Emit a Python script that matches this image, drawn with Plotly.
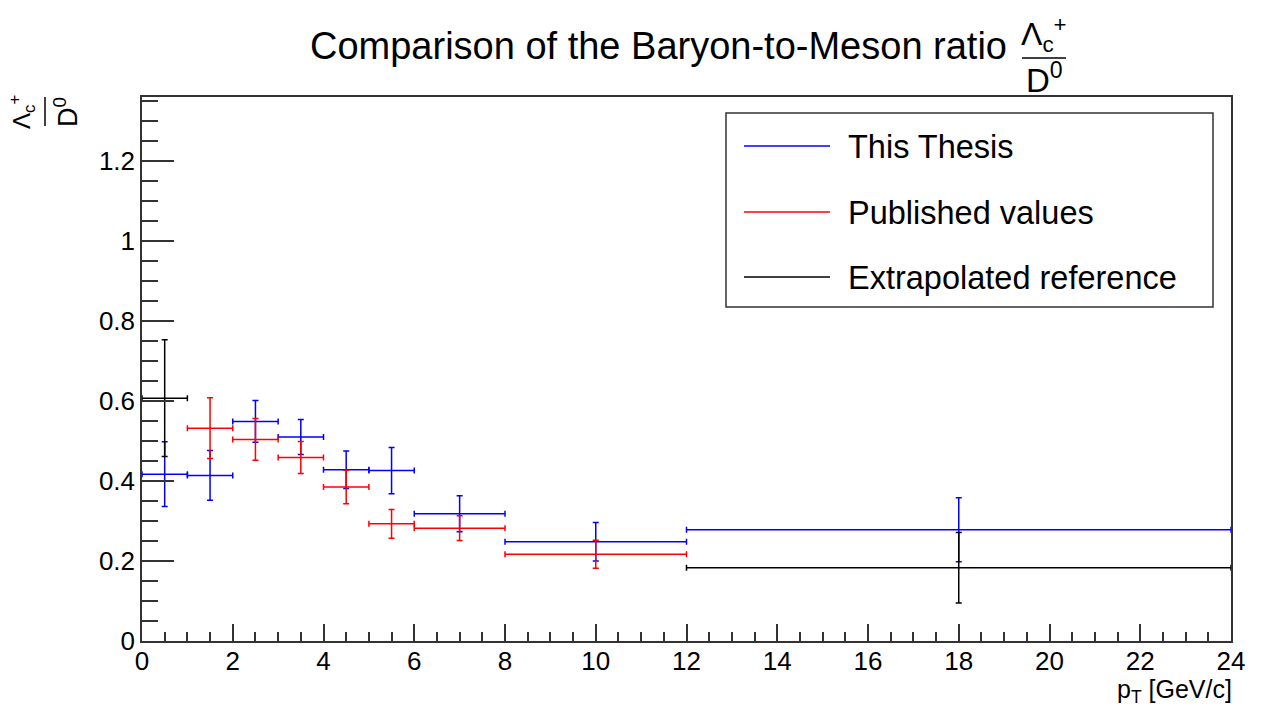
import plotly.graph_objects as go

# ---------------- data ----------------
thesis_x = [0.5, 1.5, 2.5, 3.5, 4.5, 5.5, 7, 10, 18]
thesis_xerr = [0.5, 0.5, 0.5, 0.5, 0.5, 0.5, 1, 2, 6]
thesis_y = [0.417, 0.414, 0.549, 0.510, 0.428, 0.426, 0.318, 0.248, 0.278]
thesis_yerr = [0.081, 0.062, 0.052, 0.044, 0.047, 0.058, 0.045, 0.048, 0.080]

published_x = [1.5, 2.5, 3.5, 4.5, 5.5, 7, 10]
published_xerr = [0.5, 0.5, 0.5, 0.5, 0.5, 1, 2]
published_y = [0.532, 0.504, 0.459, 0.385, 0.293, 0.282, 0.217]
published_yerr = [0.076, 0.052, 0.040, 0.042, 0.036, 0.031, 0.035]

reference_x = [0.5, 18]
reference_xerr = [0.5, 6]
reference_y = [0.607, 0.183]
reference_yerr = [0.146, 0.088]

series_names = ["This Thesis", "Published values", "Extrapolated reference"]
series_colors = ["#0000ff", "#ff0000", "#000000"]

x_tickvals = [0, 2, 4, 6, 8, 10, 12, 14, 16, 18, 20, 22, 24]
x_ticktext = ["0", "2", "4", "6", "8", "10", "12", "14", "16", "18", "20", "22", "24"]
y_tickvals = [0, 0.2, 0.4, 0.6, 0.8, 1.0, 1.2]
y_ticktext = ["0", "0.2", "0.4", "0.6", "0.8", "1", "1.2"]

# ---------------- geometry helpers ----------------
W, H = 1263, 708
L, R, T, B = 142, 1231, 97, 641


def px(xp):
    return (xp - L) / (R - L)


def py(yp):
    return (B - yp) / (B - T)


FONT = "Liberation Sans, Arial, Helvetica, sans-serif"

fig = go.Figure()

datasets = [
    (thesis_x, thesis_xerr, thesis_y, thesis_yerr),
    (published_x, published_xerr, published_y, published_yerr),
    (reference_x, reference_xerr, reference_y, reference_yerr),
]
for (xs, xe, ys, ye), name, col in zip(datasets, series_names, series_colors):
    fig.add_trace(go.Scatter(
        x=xs, y=ys, name=name, mode="markers",
        marker=dict(size=1, color=col),
        error_x=dict(type="data", array=xe, visible=True, color=col,
                     thickness=1.5, width=3),
        error_y=dict(type="data", array=ye, visible=True, color=col,
                     thickness=1.5, width=3),
        showlegend=False,
    ))

fig.update_layout(
    width=W, height=H,
    margin=dict(l=L, r=W - R, t=T, b=H - B),
    paper_bgcolor="white", plot_bgcolor="white",
    font=dict(family=FONT, color="black"),
    showlegend=False,
)

fig.update_xaxes(
    range=[0, 24], showgrid=False, zeroline=False,
    showline=True, linecolor="#333", linewidth=1.5, mirror=True,
    ticks="inside", ticklen=17, tickcolor="#333", tickwidth=1.5,
    tickvals=x_tickvals, ticktext=x_ticktext,
    tickfont=dict(size=26, family=FONT), ticklabelstandoff=-4,
    minor=dict(dtick=0.5, ticks="inside", ticklen=9, tickcolor="#333", tickwidth=1.5),
)
fig.update_yaxes(
    range=[0, 1.36], showgrid=False, zeroline=False,
    showline=True, linecolor="#333", linewidth=1.5, mirror=True,
    ticks="inside", ticklen=32, tickcolor="#333", tickwidth=1.5,
    tickvals=y_tickvals, ticktext=y_ticktext,
    tickfont=dict(size=26, family=FONT),
    minor=dict(dtick=0.05, ticks="inside", ticklen=16, tickcolor="#333", tickwidth=1.5),
)

shapes = []
annotations = []

# ---------------- title ----------------
annotations.append(dict(
    xref="paper", yref="paper", x=px(308), y=py(46), xanchor="left", yanchor="middle",
    text="Comparison of the Baryon-to-Meson ratio", showarrow=False,
    font=dict(size=38, family=FONT, color="black"),
))
annotations.append(dict(
    xref="paper", yref="paper", x=px(1044), y=py(35), xanchor="center", yanchor="middle",
    text="Λ<sub>c</sub><sup>+</sup>", showarrow=False,
    font=dict(size=32, family=FONT, color="black"),
))
shapes.append(dict(type="line", xref="paper", yref="paper",
                   x0=px(1022), x1=px(1066), y0=py(58), y1=py(58),
                   line=dict(color="black", width=1.5)))
annotations.append(dict(
    xref="paper", yref="paper", x=px(1044), y=py(78), xanchor="center", yanchor="middle",
    text="D<sup>0</sup>", showarrow=False,
    font=dict(size=33, family=FONT, color="black"),
))

# ---------------- y-axis title (rotated fraction) ----------------
annotations.append(dict(
    xref="paper", yref="paper", x=px(22), y=py(112), xanchor="center", yanchor="middle",
    text="Λ<sub>c</sub><sup>+</sup>", showarrow=False, textangle=-90,
    font=dict(size=24, family=FONT, color="black"),
))
shapes.append(dict(type="line", xref="paper", yref="paper",
                   x0=px(45), x1=px(45), y0=py(97), y1=py(126),
                   line=dict(color="black", width=1.5)))
annotations.append(dict(
    xref="paper", yref="paper", x=px(66), y=py(112), xanchor="center", yanchor="middle",
    text="D<sup>0</sup>", showarrow=False, textangle=-90,
    font=dict(size=27, family=FONT, color="black"),
))

# ---------------- x-axis title ----------------
annotations.append(dict(
    xref="paper", yref="paper", x=px(1234), y=py(691), xanchor="right", yanchor="middle",
    text="p<sub>T</sub> [GeV/c]", showarrow=False,
    font=dict(size=25, family=FONT, color="black"),
))

# ---------------- legend (drawn manually, ROOT style) ----------------
shapes.append(dict(type="rect", xref="paper", yref="paper",
                   x0=px(726), x1=px(1213), y0=py(307), y1=py(113),
                   line=dict(color="#333", width=1.5), fillcolor="white", layer="above"))
legend_rows_y = [146, 212, 277]
for name, col, yy in zip(series_names, series_colors, legend_rows_y):
    shapes.append(dict(type="line", xref="paper", yref="paper",
                       x0=px(744), x1=px(830), y0=py(yy), y1=py(yy),
                       line=dict(color=col, width=1.5), layer="above"))
    annotations.append(dict(
        xref="paper", yref="paper", x=px(846), y=py(yy + 1), xanchor="left", yanchor="middle",
        text=name, showarrow=False,
        font=dict(size=32.5, family=FONT, color="black"),
    ))

fig.update_layout(shapes=shapes, annotations=annotations)

fig.write_html("out.html")
